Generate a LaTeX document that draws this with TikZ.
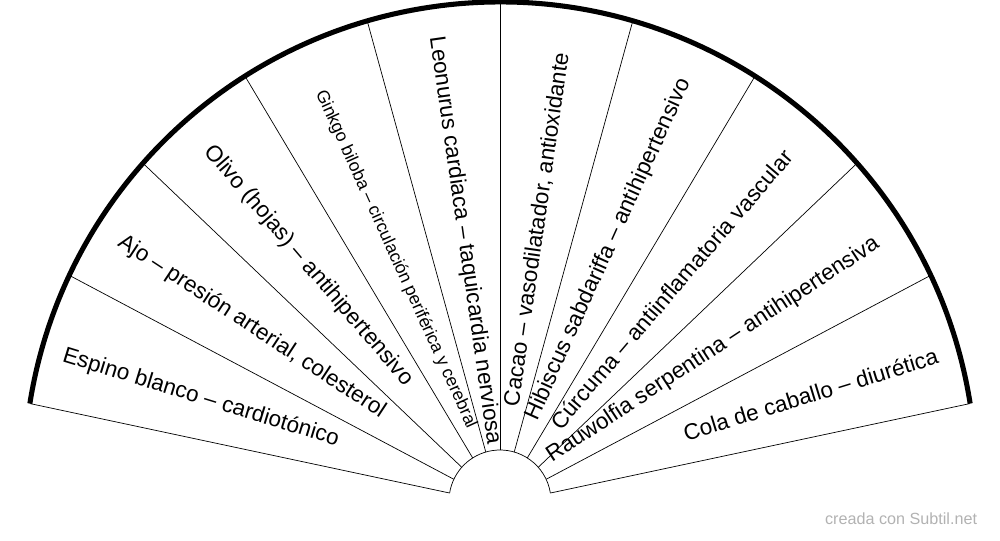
\documentclass[tikz,border=0pt]{standalone}
\usepackage{fontspec}
\setmainfont{Liberation Sans}
\usetikzlibrary{calc,positioning}
\tikzstyle{ray}   = [line width=0.5pt]
\tikzstyle{rim}   = [line width=3.6pt]
\tikzstyle{label} = [inner sep=0pt]
\begin{document}
\begin{tikzpicture}[x=0.025cm,y=0.025cm]
		\useasboundingbox (0,0) rectangle (1000,540);
		\coordinate (O) at (500,62);
		\coordinate (I) at (500,39);
		\coordinate (T) at (500,50);
		% outer rim and inner arc
		\draw[rim] ($(O)+(9:476)$) arc (9:171:476);
		\draw[ray] ($(I)+(9:51)$) arc (9:171:51);
		% rays
		\foreach \k in {0,...,10}
			\draw[ray] ($(I)+(9+16.2*\k:51)$) -- ($(O)+(9+16.2*\k:476)$);
		% labels
		\foreach \i/\r/\s/\txt in {
			1/313/16/{Espino blanco – cardiotónico},
			2/297/16/{Ajo – presión arterial, colesterol},
			3/295/16/{Olivo (hojas) – antihipertensivo},
			4/253/12.5/{Ginkgo biloba – circulación periférica y cerebral},
			5/252/16/{Leonurus cardiaca – taquicardia nerviosa},
			6/263/16/{Cacao – vasodilatador, antioxidante},
			7/264/16/{Hibiscus sabdariffa – antihipertensivo},
			8/264/16/{Cúrcuma – antiinflamatoria vascular},
			9/255/16/{Rauwolfia serpentina – antihipertensiva},
			10/325/16/{Cola de caballo – diurética}} {
			\pgfmathsetmacro\a{171-16.2*(\i-0.5)}
			\pgfmathsetmacro\rot{\a>90 ? \a-180 : \a}
			\node[label, font=\fontsize{\s}{18}\selectfont, rotate=\rot] (t\i) at ($(T)+(\a:\r)$) {\txt};
		}
		\node[font=\fontsize{11.5}{13}\selectfont, text=black!30, anchor=east] (mark) at (982,21) {creada con Subtil.net};
	\end{tikzpicture}
\end{document}
